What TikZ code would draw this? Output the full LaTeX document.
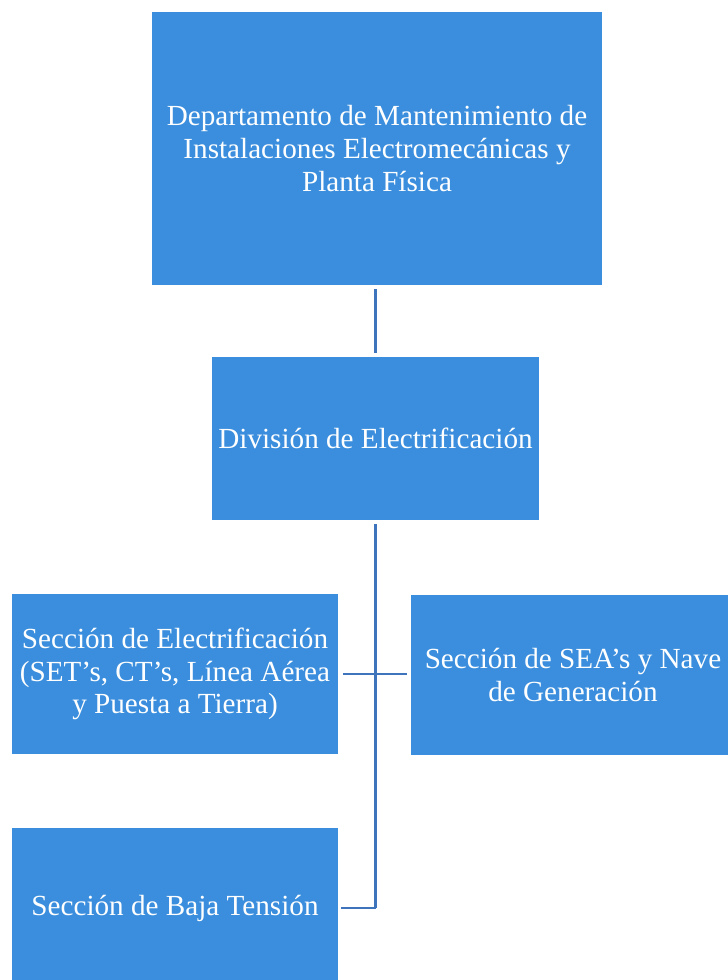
\documentclass[tikz,border=0pt]{standalone}
\usepackage{fontspec}
\setmainfont{Liberation Serif}
\usepackage{tikz}
\usetikzlibrary{arrows.meta}

\definecolor{boxblue}{RGB}{58,142,221}
\definecolor{lineblue}{RGB}{62,116,188}

\tikzset{
  unitbox/.style={fill=boxblue, text=white, align=center, inner sep=0pt,
    font=\fontsize{16.6}{18.7}\selectfont},
  link/.style={draw=lineblue, line width=1.3pt}
}

\begin{document}
\begin{tikzpicture}[x=0.02cm,y=-0.02cm]
                \useasboundingbox (0,0) rectangle (727,980);

                \node[unitbox, minimum width=9cm, minimum height=5.46cm] (dept) at (377,148.5)
                  {Departamento de Mantenimiento de\\Instalaciones Electromecánicas y\\Planta Física};

                \node[unitbox, minimum width=6.54cm, minimum height=3.26cm] (div) at (375.5,438.5)
                  {División de Electrificación};

                \node[unitbox, minimum width=6.52cm, minimum height=3.22cm] (elec) at (175,674)
                  {Sección de Electrificación\\(SET’s, CT’s, Línea Aérea\\y Puesta a Tierra)};
                \node[unitbox, minimum width=6.48cm, minimum height=3.2cm] (sea) at (573,675)
                  {Sección de SEA’s y Nave\\de Generación};

                \node[unitbox, minimum width=6.52cm, minimum height=3.2cm] (baja) at (175,908)
                  {Sección de Baja Tensión};

                \coordinate (trunk) at (375.5,908);

                \draw[link, shorten <=0.08cm, shorten >=0.08cm] (div.north |- dept.south) -- (div.north);
                \draw[link, shorten <=0.08cm] (div.south) -- (trunk);
                \draw[link, shorten <=0.1cm, shorten >=0.08cm] (elec.east) -- (elec.east -| sea.west);
                \draw[link, shorten <=0.06cm] (baja.east) -- (trunk);
            \end{tikzpicture}
\end{document}
